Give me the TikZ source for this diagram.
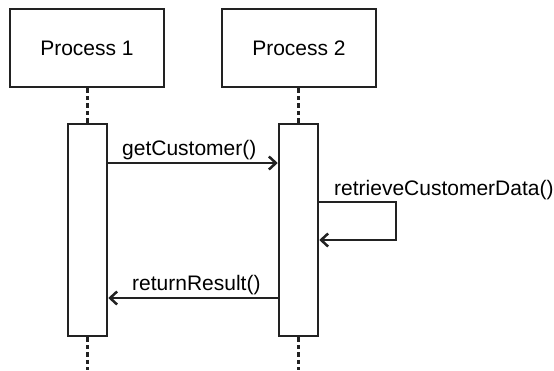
\documentclass[tikz,border=0pt]{standalone}
\usepackage{fontspec}
\setmainfont{Liberation Sans}
\usetikzlibrary{arrows.meta}
\definecolor{ink}{HTML}{222222}
\begin{document}
\begin{tikzpicture}[x=1pt,y=-1pt,
  every node/.style={font=\fontsize{21}{24}\selectfont, text=black},
  procbox/.style={draw=ink, line width=2.5pt, fill=white, minimum width=154pt, minimum height=78pt, inner sep=0pt},
  actbox/.style={draw=ink, line width=2.5pt, fill=white, minimum width=39pt, minimum height=212pt, inner sep=0pt},
  life/.style={draw=ink, line width=2.5pt, dash pattern=on 4.5pt off 3pt},
  msg/.style={draw=ink, line width=2.5pt, -{Straight Barb[length=7pt,width=13pt,line width=2.5pt]}},
  lbl/.style={anchor=base west, inner sep=0pt}]
  \useasboundingbox (0,0) rectangle (554,370);

  % participants
  \node[procbox] (p1) at (87,48) {Process 1};
  \node[procbox] (p2) at (299,48) {Process 2};

  % activation bars
  \node[actbox] (a1) at (87.5,230) {};
  \node[actbox] (a2) at (298.5,230) {};

  % lifelines
  \coordinate (e1) at (87.5,370);
  \coordinate (e2) at (298.5,370);
  \draw[life] (p1.south -| a1.north) -- (a1.north);
  \draw[life] (p2.south -| a2.north) -- (a2.north);
  \draw[life] (a1.south) -- (e1);
  \draw[life] (a2.south) -- (e2);

  % messages
  \draw[msg] (a1.east |- 0,163) -- (a2.west |- 0,163);
  \node[lbl] (m1) at (122,155) {getCustomer()};

  \coordinate (s1) at (396,202);
  \coordinate (s2) at (396,240);
  \draw[msg] (a2.east |- s1) -- (s1) -- (s2) -- (a2.east |- s2);
  \node[lbl] (m2) at (334,195) {retrieveCustomerData()};

  \draw[msg] (a2.west |- 0,298) -- (a1.east |- 0,298);
  \node[lbl] (m3) at (132,290) {returnResult()};
\end{tikzpicture}
\end{document}
